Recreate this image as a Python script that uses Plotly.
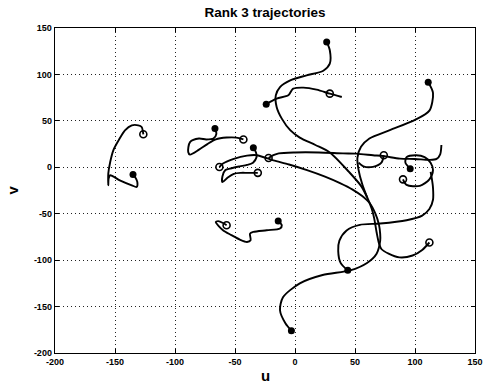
import plotly.graph_objects as go

# ---- trajectory data (u, v) ----
t1_u = [-126.4, -127.8, -130.6, -136, -141.7, -147, -151.4, -154, -155.6, -155.6, -155.3, -154, -146, -136, -132, -131.4, -133.3, -135]
t1_v = [35.5, 43.4, 45.2, 45.2, 39.8, 29, 18.3, 5.7, -6.8, -19.4, -12, -8.6, -14, -19.4, -21.2, -15.8, -10.4, -7.9]

t2_u = [-66.7, -65.5, -68, -74, -80, -87.5, -89, -87.5, -80, -73, -66, -57, -49, -43]
t2_v = [41.7, 36, 31, 30, 31, 27.2, 16.5, 13.7, 19, 25, 30, 32, 32, 30]

t3_u = [-34.7, -32.5, -32, -35, -40, -46, -53, -58, -60.5, -60.5, -56, -51, -45, -40, -31]
t3_v = [21, 16, 11, 5, 2.5, 1, -1, -3, -10, -16, -11, -7, -6, -6, -6]

t4_u = [-63, -60, -51, -40, -32, -18, -5, 10, 25, 37.5, 48, 56, 62.5, 67, 70, 71, 71, 68, 60, 46, 23, 4, -10, -12.5, -8, -3]
t4_v = [0.3, 4, 9, 12.5, 13, 7.5, 3, -3, -10, -17, -24, -31, -39, -50, -62, -72, -79, -93, -103, -111, -116, -125, -140, -154, -168, -176]

t5_u = [44, 38, 36, 37, 43, 54, 71, 93, 106, 112, 115, 115, 114, 113]
t5_v = [-111, -103, -90, -79, -68, -62, -60.6, -57, -52, -45, -35, -22, -12, -5]

t6_u = [90, 93, 104, 112, 115, 113, 108, 101, 93, 92, 96]
t6_v = [-13, -19, -20, -13, -3, 5, 11, 13, 11, 5, -1.5]

t7_u = [-22, -18, -13.5, 0, 20, 40, 51, 65, 74, 87.5, 100, 112, 118, 121, 122]
t7_v = [10, 13, 15, 16, 16, 15, 14.7, 13, 12, 9.3, 9, 8, 9, 14, 24]

t8_u = [26.4, 29, 29, 23.6, 9.7, -4, -12.5, -16, -15.3, -11, -4, 4, 17, 29, 45, 55, 60, 64, 66, 68, 70, 72, 78, 87, 98, 106, 112]
t8_v = [135, 126, 111.6, 104, 99, 93.6, 86.4, 77.5, 65, 52.4, 40, 32, 24, 16, -5, -20, -32, -45, -55, -70, -82, -88, -93, -97, -95, -89, -81]

t9_u = [111, 115, 112, 100, 79, 62, 55, 52, 53, 56, 60]
t9_v = [91.5, 80, 61, 51, 40, 31, 22, 10, -3, -18, -32]

t10_u = [74, 72, 65, 57, 53]
t10_v = [13, 5, 0.5, 1, 5]

t11_u = [-24, -15.3, -5.6, -2.8, -1.4, 7, 18, 29, 39]
t11_v = [68, 74, 77.5, 82.9, 84.7, 85.8, 83.6, 79.3, 75.7]

t12_u = [-14, -11, -12.5, -23.6, -34.7, -37.5, -37, -40, -46, -53, -60, -66, -64, -60, -57]
t12_v = [-57.8, -62.4, -66, -67.8, -69.6, -71.4, -78.6, -80.4, -77.8, -73, -67.8, -58.9, -58, -60, -62.4]

# marker points
filled_u = [-135, -66.7, -34.7, -3, 44, 96, 26.4, 111, -24, -14]
filled_v = [-7.9, 41.7, 21, -176, -111, -1.5, 135, 91.5, 68, -57.8]
open_u = [-126.4, -43, -31, -63, 90, 112, 74, 29, -22, -57]
open_v = [35.5, 30, -6, 0.3, -13, -81, 13, 79.3, 10, -62.4]

tick_vals = [-200, -150, -100, -50, 0, 50, 100, 150]
tick_text = ["-200", "-150", "-100", "-50", "0", "50", "100", "150"]

title_text = "Rank 3 trajectories"
x_title = "u"
y_title = "v"

FONT = "Liberation Sans, Arial, sans-serif"

fig = go.Figure()
trajs = [(t1_u, t1_v), (t2_u, t2_v), (t3_u, t3_v), (t4_u, t4_v), (t5_u, t5_v), (t6_u, t6_v),
         (t7_u, t7_v), (t8_u, t8_v), (t9_u, t9_v), (t10_u, t10_v), (t11_u, t11_v), (t12_u, t12_v)]
for u, v in trajs:
    fig.add_trace(go.Scatter(x=u, y=v, mode="lines",
                             line=dict(color="black", width=1.9, shape="spline", smoothing=0.8),
                             showlegend=False, hoverinfo="skip"))

fig.add_trace(go.Scatter(x=open_u, y=open_v, mode="markers",
                         marker=dict(symbol="circle-open", size=7, color="black", line=dict(width=1.6)),
                         showlegend=False, hoverinfo="skip"))
fig.add_trace(go.Scatter(x=filled_u, y=filled_v, mode="markers",
                         marker=dict(symbol="circle", size=7, color="black"),
                         showlegend=False, hoverinfo="skip"))

axis_common = dict(
    range=[-200, 150], tickvals=tick_vals, ticktext=tick_text,
    showline=True, linecolor="black", linewidth=1.3, mirror="ticks",
    ticks="inside", ticklen=4, tickcolor="black",
    showgrid=True, gridcolor="#222", gridwidth=1, griddash="1px,3px",
    zeroline=False, automargin=False,
    tickfont=dict(family=FONT, size=9, color="black", weight="bold"),
)

fig.update_layout(
    width=483, height=385,
    margin=dict(l=55, r=8, t=28, b=32),
    paper_bgcolor="white", plot_bgcolor="white",
    title=dict(text="<b>" + title_text + "</b>", x=(55 + 475) / 2 / 483, xanchor="center",
               y=1 - 12 / 385, yanchor="middle",
               font=dict(family=FONT, size=13.5, color="black")),
    xaxis=dict(**axis_common),
    yaxis=dict(**axis_common),
    annotations=[
        dict(text="<b>" + x_title + "</b>", xref="paper", yref="paper", x=0.5, y=-22 / 325,
             xanchor="center", yanchor="middle", showarrow=False,
             font=dict(family=FONT, size=15, color="black")),
        dict(text="<b>" + y_title + "</b>", xref="paper", yref="paper", x=-43 / 420, y=0.5,
             xanchor="center", yanchor="middle", showarrow=False, textangle=-90,
             font=dict(family=FONT, size=15, color="black")),
    ],
)

fig.write_html("out.html",
               config={"displayModeBar": False, "staticPlot": True},
               post_script="document.body.style.margin='0';document.body.style.padding='0';"
                           "document.body.style.overflow='hidden';")
